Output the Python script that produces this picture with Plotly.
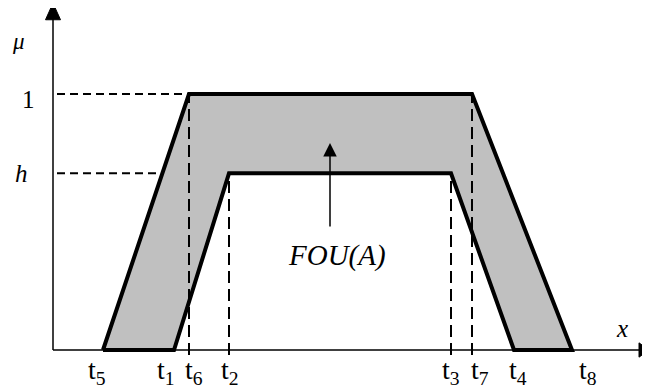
import plotly.graph_objects as go

# ---- data (x in px-like units from the y-axis, y in membership grade) ----
t_names = ["t5", "t1", "t6", "t2", "t3", "t7", "t4", "t8"]
t_sub = ["5", "1", "6", "2", "3", "7", "4", "8"]
t_vals = [50, 121, 136, 176, 398, 419, 461, 519]
h = 0.69
upper_top = 1.0
label_xshift = [-6, -8, 5, 1, 0, 8, 4, 16]

T = dict(zip(t_names, t_vals))
S = 256.0  # px per membership unit
FAM = "Liberation Serif, DejaVu Serif, serif"

fig = go.Figure()

# FOU polygon
poly_x = [T["t5"], T["t6"], T["t7"], T["t8"], T["t4"], T["t3"], T["t2"], T["t1"], T["t5"]]
poly_y = [0, upper_top, upper_top, 0, 0, h, h, 0, 0]
fig.add_trace(go.Scatter(x=poly_x, y=poly_y, mode="lines", fill="toself",
                         fillcolor="#c0c0c0", line=dict(color="black", width=4),
                         hoverinfo="skip", showlegend=False))

shapes = []
# axes
shapes.append(dict(type="line", x0=0, y0=0, x1=0, y1=1.30, line=dict(color="black", width=1.5)))
shapes.append(dict(type="line", x0=0, y0=0, x1=588, y1=0, line=dict(color="black", width=1.5)))
shapes.append(dict(type="path", path="M 0 1.355 L -7.5 1.29 L 7.5 1.29 Z", fillcolor="black",
                   line=dict(color="black", width=1)))
shapes.append(dict(type="path", path="M 596 0 L 586 0.028 L 586 -0.028 Z", fillcolor="black",
                   line=dict(color="black", width=1)))
# dashed guides
hd = dict(color="black", width=2, dash="8px,5px")
vd = dict(color="black", width=2, dash="12px,6px")
shapes.append(dict(type="line", x0=4, y0=upper_top, x1=T["t6"], y1=upper_top, line=hd, layer="below"))
shapes.append(dict(type="line", x0=4, y0=h, x1=T["t2"], y1=h, line=hd, layer="below"))
for k, top in [("t6", upper_top), ("t2", h), ("t3", h), ("t7", upper_top)]:
    shapes.append(dict(type="line", x0=T[k], y0=-0.02, x1=T[k], y1=top, line=vd))

ann = []
for name, sub, dx in zip(t_names, t_sub, label_xshift):
    ann.append(dict(x=T[name], y=0, text="t<sub>%s</sub>" % sub, showarrow=False,
                    xshift=dx, yshift=-21, font=dict(size=28, family=FAM)))
ann.append(dict(x=-35, y=(350 - 41) / S, text="<i>μ</i>", showarrow=False,
                font=dict(size=23, family=FAM)))
ann.append(dict(x=-25, y=upper_top, text="1", showarrow=False, yshift=-5,
                font=dict(size=25, family=FAM)))
ann.append(dict(x=-32, y=h, text="<i>h</i>", showarrow=False, font=dict(size=25, family=FAM)))
ann.append(dict(x=569, y=22 / S, text="<i>x</i>", showarrow=False, font=dict(size=25, family=FAM)))
ann.append(dict(x=284, y=(350 - 255) / S, text="<i>FOU(A)</i>", showarrow=False,
                font=dict(size=29, family=FAM)))
ann.append(dict(x=277, y=(350 - 143) / S, ax=277, ay=(350 - 228) / S, axref="x", ayref="y",
                xref="x", yref="y", text="", showarrow=True, arrowhead=2, arrowsize=1.8,
                arrowwidth=1.5, arrowcolor="black"))

# page has an 8px body margin, so the data origin is placed 8px up/left
fig.update_layout(
    width=650, height=392, margin=dict(l=0, r=0, t=0, b=0),
    paper_bgcolor="white", plot_bgcolor="white",
    font=dict(family=FAM, color="black"),
    xaxis=dict(range=[-45, 605], visible=False, fixedrange=True),
    yaxis=dict(range=[-50 / S, 342 / S], visible=False, fixedrange=True),
    shapes=shapes, annotations=ann,
)

fig.write_html("out.html")
